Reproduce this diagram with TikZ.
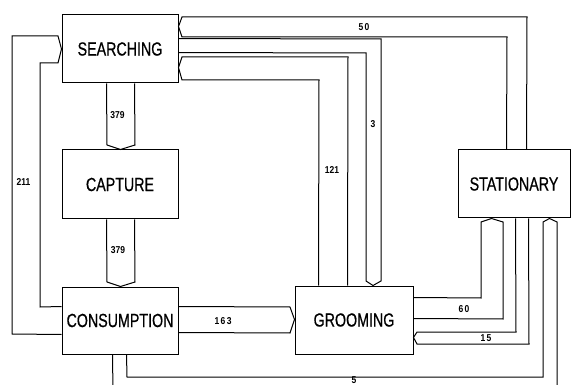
\documentclass[tikz,border=0pt]{standalone}
\usepackage{fontspec}
\setmainfont{Liberation Sans}
\newfontfamily\boxfont[FakeStretch=0.75,FakeBold=0.6]{Liberation Sans}
\newfontfamily\labfont[FakeStretch=0.85]{Liberation Sans}
\newfontfamily\labwide[FakeStretch=0.85,LetterSpace=14]{Liberation Sans}
\usetikzlibrary{calc}
\begin{document}
\begin{tikzpicture}[x=1pt,y=-1pt,line width=1pt,
  state/.style={draw,inner sep=0pt,font=\boxfont\fontsize{19}{19}\selectfont},
  band/.style={draw,line join=miter},
  lab/.style={inner sep=0pt,font=\labfont\bfseries\fontsize{10}{10}\selectfont},
  labw/.style={inner sep=0pt,font=\labwide\bfseries\fontsize{10}{10}\selectfont}]
\clip (0,0) rectangle (571,385);
\fill[white] (0,0) rectangle (571,385);
% states
\node[state,minimum width=116pt,minimum height=68pt] (S) at (120,49) {SEARCHING};
\node[state,minimum width=116pt,minimum height=69pt] (C) at (120,184.5) {CAPTURE};
\node[state,minimum width=116pt,minimum height=67pt] (Co) at (120,320.5) {CONSUMPTION};
\node[state,minimum width=118pt,minimum height=68pt] (G) at (354,320) {GROOMING};
\node[state,minimum width=112pt,minimum height=68pt] (St) at (514,184) {STATIONARY};
% bands
\draw[band] ($(S.south west)+(45,0)$) -- (107,145) -- ($(C.north west)+(59,0)$) -- (135,145) -- ($(S.south west)+(73,0)$);
\draw[band] ($(C.south west)+(45,0)$) -- (107,282) -- ($(Co.north west)+(59,0)$) -- (135,282) -- ($(C.south west)+(73,0)$);
\draw[band] ($(Co.south west)+(0,-20)$) -- (12,334) -- (12,36) -- (58,36) -- ($(S.north west)+(0,34.5)$) -- (58,63) -- (40,63) -- (40,307) -- ($(Co.north west)+(0,20)$);
\draw[band] ($(Co.north east)+(0,20)$) -- (290,307) -- ($(G.north west)+(0,34)$) -- (290,333) -- ($(Co.north east)+(0,46)$);
\draw[band] ($(St.north west)+(69,0)$) -- (527,17) -- (182,17) -- ($(S.north east)+(0,12)$) -- (182,37) -- (507,37) -- ($(St.north west)+(49,0)$);
\draw[band] ($(S.north east)+(0,24)$) -- (381,39) -- (381,281) -- ($(G.north west)+(78.5,0)$) -- (366,281) -- (366,53) -- ($(S.north east)+(0,38)$);
\draw[band] ($(G.north west)+(53,0)$) -- (348,57) -- (182,57) -- ($(S.north east)+(0,53)$) -- (182,80) -- (319,80) -- ($(G.north west)+(24,0)$);
\draw[band] ($(G.north east)+(0,12)$) -- (481,298) -- (481,222) -- ($(St.south west)+(34,0)$) -- (503,222) -- (503,319) -- ($(G.north east)+(0,33)$);
\draw[band] ($(St.south west)+(58,0)$) -- (516,332) -- (417,332) -- ($(G.north east)+(0,52)$) -- (417,344) -- (529,344) -- ($(St.south west)+(71,0)$);
\draw[band] ($(Co.south west)+(65,0)$) -- (127,377) -- (543,377) -- (543,222) -- ($(St.south west)+(92,0)$) -- (557,222) -- (557,392) -- (113,392) -- ($(Co.south west)+(51,0)$);
% labels
\node[lab] (n379a) at (117.5,115) {379};
\node[lab] (n379b) at (118,250) {379};
\node[lab] (n211) at (23.5,182) {211};
\node[labw] (n163) at (223,321) {163};
\node[labw] (n50) at (364,27) {50};
\node[lab] (n3) at (373,124) {3};
\node[lab] (n121) at (332,170) {121};
\node[labw] (n60) at (464,309) {60};
\node[labw] (n15) at (486,338) {15};
\node[lab] (n5) at (354,380.5) {5};
\end{tikzpicture}
\end{document}
